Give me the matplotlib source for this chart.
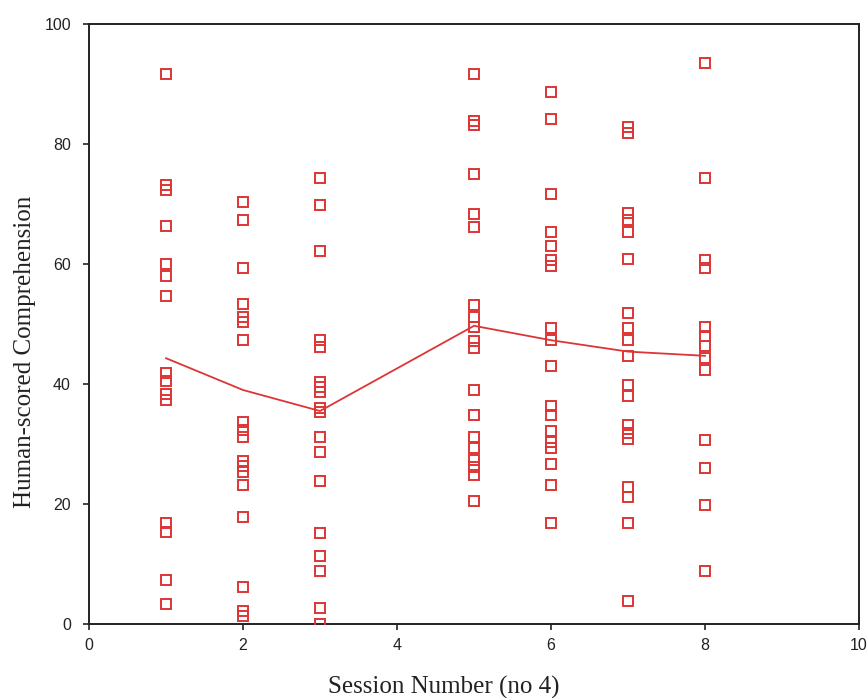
import matplotlib
matplotlib.use("Agg")
import matplotlib.pyplot as plt
import numpy as np

# Scores per session
s1 = [91.6, 73.2, 72.4, 66.4, 60.0, 58.0, 54.7, 41.9, 40.5, 38.3, 37.4, 16.8, 15.3, 7.4, 3.3]
s2 = [70.3, 67.4, 59.3, 53.4, 51.2, 50.3, 47.3, 33.6, 32.4, 31.2, 27.2, 26.4, 25.3, 23.1, 17.9, 6.2, 2.2, 1.3]
s3 = [74.3, 69.8, 62.2, 47.4, 46.2, 40.4, 39.5, 38.7, 36.0, 35.3, 31.2, 28.6, 23.8, 15.1, 11.3, 8.9, 2.7, 0.0]
s5 = [91.6, 83.9, 83.2, 75.0, 68.4, 66.2, 53.2, 51.2, 49.5, 47.2, 46.0, 39.0, 34.8, 31.2, 29.3, 27.3, 26.2, 24.8, 20.5]
s6 = [88.7, 84.1, 71.6, 65.4, 63.0, 60.7, 59.6, 49.3, 47.3, 43.0, 36.4, 34.9, 32.2, 30.3, 29.3, 26.7, 23.1, 16.8]
s7 = [82.9, 81.8, 68.5, 67.4, 65.4, 60.9, 51.9, 49.3, 47.3, 44.7, 39.9, 38.0, 33.1, 31.9, 30.9, 22.8, 21.1, 16.8, 3.9]
s8 = [93.5, 74.3, 60.7, 59.4, 49.5, 48.0, 46.3, 44.3, 42.3, 30.6, 26.0, 19.9, 8.8]

sessions = [1, 2, 3, 5, 6, 7, 8]
scores = [s1, s2, s3, s5, s6, s7, s8]

# Mean line values
line_x = [1, 2, 3, 5, 6, 7, 8]
line_y = [44.3, 39.0, 35.5, 49.7, 47.3, 45.4, 44.7]

xticks = [0, 2, 4, 6, 8, 10]
yticks = [0, 20, 40, 60, 80, 100]

red = "#dd3535"

fig = plt.figure(figsize=(8.67, 6.98), dpi=100)
ax = fig.add_axes([0.1027, 0.106, 0.8881, 0.8596])

for s, vals in zip(sessions, scores):
    ax.plot([s] * len(vals), vals, linestyle="none", marker="s", markersize=6.5,
            markerfacecolor="none", markeredgecolor=red, markeredgewidth=1.4, zorder=3)

ax.plot(line_x, line_y, color=red, linewidth=1.3, zorder=2)

ax.set_xlim(0, 10)
ax.set_ylim(0, 100)
ax.set_xticks(xticks)
ax.set_yticks(yticks)

tick_font = dict(family="Liberation Sans", size=11.5, color="#111111")
ax.set_xticklabels([str(t) for t in xticks], fontdict=tick_font)
ax.set_yticklabels([str(t) for t in yticks], fontdict=tick_font)
ax.tick_params(axis="x", direction="out", length=4, width=1.2, colors="#222222", pad=6)
ax.tick_params(axis="y", direction="out", length=4, width=1.2, colors="#222222", pad=9)

for sp in ax.spines.values():
    sp.set_linewidth(1.4)
    sp.set_color("#222222")

label_font = dict(family="Liberation Serif", size=18, color="#222222")
ax.set_xlabel("Session Number (no 4)", fontdict=label_font)
ax.set_ylabel("Human-scored Comprehension", fontdict=label_font)
ax.xaxis.set_label_coords(0.461, -0.105)
ax.xaxis.label.set_verticalalignment("center")
ax.yaxis.set_label_coords(-0.083, 0.454)
ax.yaxis.label.set_verticalalignment("center")

fig.savefig("out.png", dpi=100)
